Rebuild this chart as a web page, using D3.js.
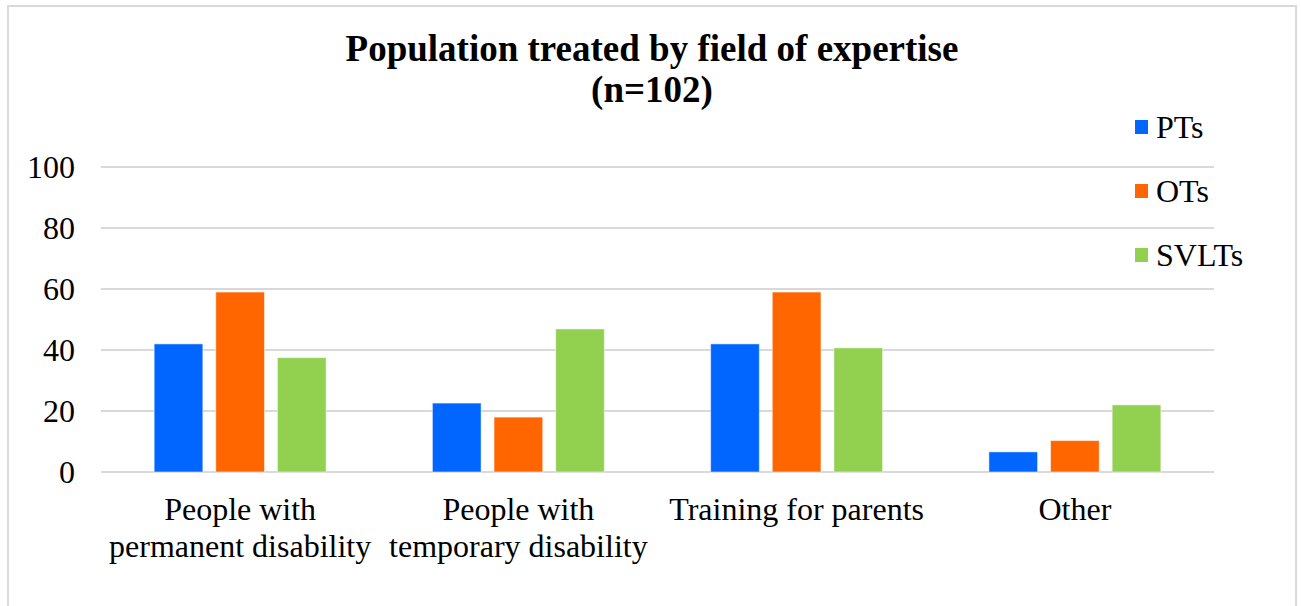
<!DOCTYPE html>
<html>
<head>
<meta charset="utf-8">
<script src="https://cdn.jsdelivr.net/npm/d3@7"></script>
<style>
  html, body { margin: 0; padding: 0; background: #fff; }
  svg { display: block; font-family: 'Liberation Serif', 'Times New Roman', serif; }
</style>
</head>
<body>
<div id="chart"></div>
<script>
const categories = [
  'People with permanent disability',
  'People with temporary disability',
  'Training for parents',
  'Other'
]
const seriesNames = ['PTs', 'OTs', 'SVLTs']
const ptsValues = [42, 22.6, 42, 6.6]
const otsValues = [59, 18, 59, 10.3]
const svltsValues = [37.5, 46.9, 40.7, 22]
const yTicks = [0, 20, 40, 60, 80, 100]
const colors = ['#0066FF', '#FF6600', '#92D050']

const seriesValues = [ptsValues, otsValues, svltsValues]
const rows = categories.map((c, i) => ({
  category: c,
  values: seriesNames.map((s, j) => ({ series: s, value: seriesValues[j][i], color: colors[j] }))
}))

const width = 1301
const height = 606
const margin = { left: 101, right: 87, top: 167, bottom: 134 }

const svg = d3.select('#chart')
  .append('svg')
  .attr('width', width)
  .attr('height', height)

// chart border
svg.append('rect')
  .attr('x', 8)
  .attr('y', 6)
  .attr('width', 1288)
  .attr('height', 620)
  .attr('fill', 'none')
  .attr('stroke', '#d9d9d9')
  .attr('stroke-width', 2)

const x0 = d3.scaleBand()
  .domain(categories)
  .range([margin.left, width - margin.right])
  .paddingInner(0.382)
  .paddingOuter(0.191)

const x1 = d3.scaleBand()
  .domain(seriesNames)
  .range([0, x0.bandwidth()])
  .paddingInner(0.21)

const y = d3.scaleLinear()
  .domain([0, 100])
  .range([height - margin.bottom, margin.top])

// gridlines
svg.append('g')
  .selectAll('line')
  .data(yTicks)
  .join('line')
  .attr('x1', margin.left)
  .attr('x2', width - margin.right)
  .attr('y1', d => y(d))
  .attr('y2', d => y(d))
  .attr('stroke', '#d9d9d9')
  .attr('stroke-width', 2)

// y tick labels
svg.append('g')
  .selectAll('text')
  .data(yTicks)
  .join('text')
  .attr('x', 75)
  .attr('y', d => y(d))
  .attr('dy', '0.35em')
  .attr('text-anchor', 'end')
  .attr('font-size', 32)
  .attr('fill', '#000')
  .text(d => d)

// bars
const groups = svg.append('g')
  .selectAll('g')
  .data(rows)
  .join('g')
  .attr('transform', d => `translate(${x0(d.category)},0)`)

groups.selectAll('rect')
  .data(d => d.values)
  .join('rect')
  .attr('x', d => x1(d.series))
  .attr('y', d => y(d.value))
  .attr('width', x1.bandwidth())
  .attr('height', d => y(0) - y(d.value))
  .attr('fill', d => d.color)
  .attr('stroke', '#fff')
  .attr('stroke-opacity', 0.5)
  .attr('stroke-width', 1)

// wrap long category labels
const wrap = (text, maxWidth) => {
  text.each(function () {
    const text = d3.select(this)
    const words = text.text().split(/\s+/).reverse()
    const x = text.attr('x')
    let word
    let line = []
    let tspan = text.text(null).append('tspan').attr('x', x).attr('dy', 0)
    // eslint-disable-next-line no-cond-assign
    while (word = words.pop()) {
      line.push(word)
      tspan.text(line.join(' '))
      if (tspan.node().getComputedTextLength() > maxWidth) {
        line.pop()
        tspan.text(line.join(' '))
        line = [word]
        tspan = text.append('tspan').attr('x', x).attr('dy', 37).text(word)
      }
    }
  })
}

svg.append('g')
  .selectAll('text')
  .data(categories)
  .join('text')
  .attr('x', d => x0(d) + x0.bandwidth() / 2)
  .attr('y', 520)
  .attr('text-anchor', 'middle')
  .attr('font-size', 32)
  .attr('fill', '#000')
  .text(d => d)
  .call(wrap, 270)

// title
const title = svg.append('text')
  .attr('x', 652)
  .attr('text-anchor', 'middle')
  .attr('font-size', 37)
  .attr('font-weight', 'bold')
  .attr('fill', '#000')
title.append('tspan').attr('x', 652).attr('y', 61).text('Population treated by field of expertise')
title.append('tspan').attr('x', 652).attr('y', 102).text('(n=102)')

// legend
const legend = svg.append('g')
  .selectAll('g')
  .data(seriesNames)
  .join('g')
  .attr('transform', (d, i) => `translate(1135,${127 + i * 64})`)

legend.append('rect')
  .attr('x', 0)
  .attr('y', -7)
  .attr('width', 13)
  .attr('height', 14)
  .attr('fill', (d, i) => colors[i])

legend.append('text')
  .attr('x', 21)
  .attr('y', 0)
  .attr('dy', '0.35em')
  .attr('font-size', 32)
  .attr('fill', '#000')
  .text(d => d)
</script>
</body>
</html>
